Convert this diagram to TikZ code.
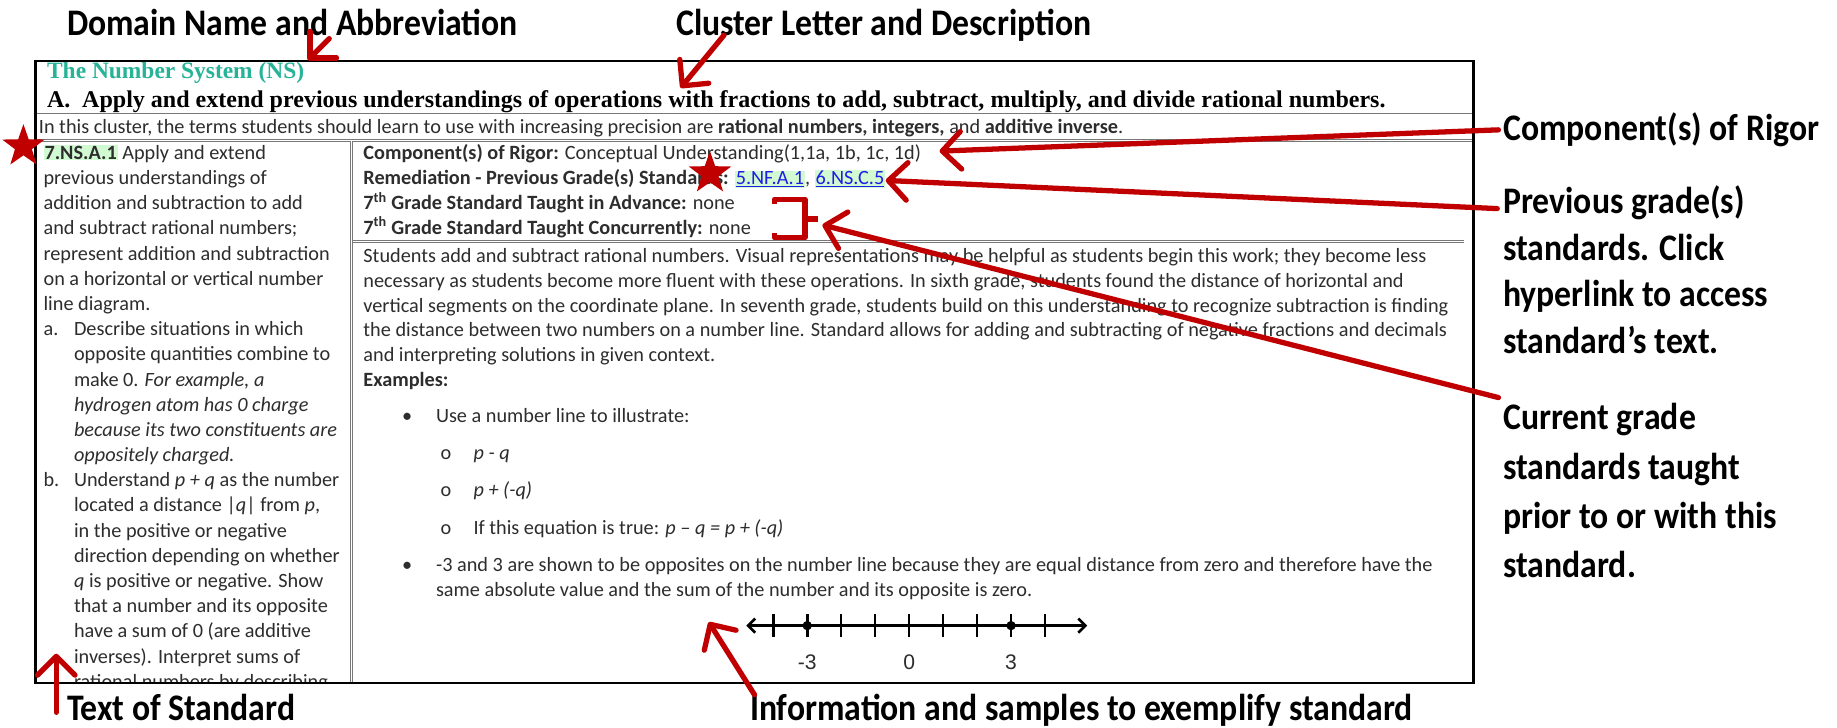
\documentclass[tikz,border=0pt]{standalone}
\usepackage{fontspec}
\setmainfont{Carlito}
\newfontfamily\headfont{Liberation Serif}
\newfontfamily\calloutfont[FakeStretch=0.9]{Carlito}
\newfontfamily\axisfont{Liberation Sans}
\usetikzlibrary{arrows.meta,positioning,shapes.geometric}

\definecolor{markred}{RGB}{192,0,0}
\definecolor{domaingreen}{RGB}{38,179,152}
\definecolor{linkblue}{RGB}{30,30,230}
\definecolor{hilite}{RGB}{210,250,210}
\definecolor{bodytext}{RGB}{45,45,45}
\definecolor{rulegray}{RGB}{120,120,120}

% highlighted standard codes and links
\newcommand{\hlcode}[1]{{\setlength{\fboxsep}{0.8pt}\colorbox{hilite}{#1}}}
\newcommand{\stdlink}[1]{\hlcode{\color{linkblue}\underline{#1}}}

% multi-line nodes sit on the baseline of their last line
\tikzset{
  callout/.style={font=\calloutfont\bfseries\fontsize{32}{40}\selectfont,
    inner sep=0pt, anchor=base west, align=left},
  body/.style={font=\fontsize{17.3}{21.2}\selectfont, text=bodytext,
    inner sep=0pt, anchor=base west, align=left},
  axis label/.style={font=\axisfont\fontsize{18}{18}\selectfont,
    text=bodytext, inner sep=0pt},
  redarrow/.style={draw=markred, line width=4.5pt, line cap=round,
    -{Straight Barb[round,length=16pt,width=32pt]}},
  redstar/.style={star, star points=5, star point ratio=2.5, fill=markred,
    minimum size=38pt, inner sep=0pt},
  tablerule/.style={draw=rulegray, line width=0.7pt, double=white,
    double distance=1.2pt},
}

\begin{document}
\begin{tikzpicture}[x=1pt,y=-1pt]
\fill[white] (0,0) rectangle (1568,621);
\useasboundingbox (0,0) rectangle (1568,621);

% table frame and inner rules
\draw[tablerule] (31,98) -- (1257,98);
\draw[tablerule] (31,120) -- (1257,120);
\draw[tablerule] (300,120) -- (300,582);
\draw[tablerule] (301,206) -- (1250,206);

% domain and cluster heading
\node[inner sep=0pt, anchor=base west, text=domaingreen,
  font=\headfont\bfseries\fontsize{20}{20}\selectfont] (domain) at (40,67)
  {The Number System (NS)};
\node[inner sep=0pt, anchor=base west,
  font=\headfont\bfseries\fontsize{20.5}{20.5}\selectfont] (cluster) at (40,92)
  {\makebox[30pt][l]{A.}Apply and extend previous understandings of operations with fractions to add, subtract, multiply, and divide rational numbers.};
\node[body] (terms) at (33,114)
  {In this cluster, the terms students should learn to use with increasing precision are \textbf{rational numbers, integers,} and \textbf{additive inverse}.};

% left column: text of the standard
\begin{scope}
\clip (31,121) rectangle (299,582);
\node[body, font=\fontsize{17.3}{21.5}\selectfont] (stdtext) at (37,587.5)
{\hlcode{\textbf{7.NS.A.1}} Apply and extend\\
previous understandings of\\
addition and subtraction to add\\
and subtract rational numbers;\\
represent addition and subtraction\\
on a horizontal or vertical number\\
line diagram.\\
\makebox[26pt][l]{a.}Describe situations in which\\
\hspace*{26pt}opposite quantities combine to\\
\hspace*{26pt}make 0. \textit{For example, a}\\
\hspace*{26pt}\textit{hydrogen atom has 0 charge}\\
\hspace*{26pt}\textit{because its two constituents are}\\
\hspace*{26pt}\textit{oppositely charged.}\\
\makebox[26pt][l]{b.}Understand \textit{p + q} as the number\\
\hspace*{26pt}located a distance |\textit{q}| from \textit{p},\\
\hspace*{26pt}in the positive or negative\\
\hspace*{26pt}direction depending on whether\\
\hspace*{26pt}\textit{q} is positive or negative. Show\\
\hspace*{26pt}that a number and its opposite\\
\hspace*{26pt}have a sum of 0 (are additive\\
\hspace*{26pt}inverses). Interpret sums of\\
\hspace*{26pt}rational numbers by describing};
\end{scope}
\draw[line width=2.4pt] (30,52) rectangle (1258,583);

% right column: rigor, remediation and sequencing
\node[body] (rigor) at (310,200) {\textbf{Component(s) of Rigor:} Conceptual Understanding(1,1a, 1b, 1c, 1d)\\
\textbf{Remediation - Previous Grade(s) Standards:} \stdlink{5.NF.A.1}, \stdlink{6.NS.C.5}\\
\textbf{7\textsuperscript{th} Grade Standard  Taught in Advance:} none\\
\textbf{7\textsuperscript{th} Grade Standard  Taught Concurrently:} none};

\node[body] (para) at (310,330) {Students add and subtract rational numbers. Visual representations may be helpful as students begin this work; they become less\\
necessary as students become more fluent with these operations. In sixth grade, students found the distance of horizontal and\\
vertical segments on the coordinate plane. In seventh grade, students build on this understanding to recognize subtraction is finding\\
the distance between two numbers on a number line. Standard allows for adding and subtracting of negative fractions and decimals\\
and interpreting solutions in given context.\\
\textbf{Examples:}};

% examples
\node[body] (bullet1) at (343,361) {•};
\node[body] (item1) at (372,361) {Use a number line to illustrate:};
\node[body] (circ1) at (376,392) {o};
\node[body] (sub1) at (404,392) {\textit{p - q}};
\node[body] (circ2) at (376,424) {o};
\node[body] (sub2) at (404,424) {\textit{p + (-q)}};
\node[body] (circ3) at (376,456) {o};
\node[body] (sub3) at (404,456) {If this equation is true: \textit{p – q = p + (-q)}};
\node[body] (bullet2) at (343,488) {•};
\node[body] (item2) at (372,509) {-3 and 3 are shown to be opposites on the number line  because they are equal distance  from zero and therefore have the\\
same absolute value and the sum of the number and its opposite is zero.};

% number line
\begin{scope}[shift={(776,534)}]
  \draw[line width=2.2pt, {Straight Barb[length=6pt,width=12pt]}-{Straight Barb[length=6pt,width=12pt]}] (-139,0) -- (152,0);
  \foreach \k in {-4,...,4}
    \draw[line width=2.2pt] (29*\k,-9.5) -- (29*\k,9.5);
  \fill (-87,0) circle[radius=4pt] (87,0) circle[radius=4pt];
  \node[axis label] (tickm3) at (-87,31) {-3};
  \node[axis label] (tick0) at (0,31) {0};
  \node[axis label] (tick3) at (87,31) {3};
\end{scope}

% callouts
\node[callout] (domainlbl) at (57,30) {Domain Name and Abbreviation};
\node[callout] (clusterlbl) at (577,30) {Cluster Letter and Description};
\node[callout] (rigorlbl) at (1283,120) {Component(s) of Rigor};
\node[callout] (prevlbl) at (1283,302) {Previous grade(s)\\standards. Click\\hyperlink to access\\standard’s text.};
\node[callout] (curlbl) at (1283,493) {Current grade\\[2pt]standards taught\\[2pt]prior to or with this\\[2pt]standard.};
\node[callout] (textlbl) at (57,615) {Text of Standard};
\node[callout] (infolbl) at (640,615) {Information and samples to exemplify standard};

% marks
\node[redstar] (star1) at (20,125) {};
\node[redstar] (star2) at (606,148) {};
\draw[markred, line width=4.5pt, line join=round]
  (661,174) -- (661,170) -- (687,170) -- (687,203) -- (661,203) -- (661,199)
  (687,187) -- (698,187);

% arrow tips
\coordinate (domaintip) at (263,51);
\coordinate (clustertip) at (581,75);
\coordinate (rigortip) at (802,129);
\coordinate (prevtip) at (756,154);
\coordinate (curtip) at (702,192);
\coordinate (texttip) at (48,558);
\coordinate (infotip) at (605,531);

\draw[redarrow] ([shift={(224,3)}]domainlbl.base west) -- (domaintip);
\draw[redarrow] ([shift={(41,0)}]clusterlbl.base west) -- (clustertip);
\draw[redarrow] ([xshift=-4pt]rigorlbl.west) -- (rigortip);
\draw[redarrow] ([shift={(-5,20)}]prevlbl.north west) -- (prevtip);
\draw[redarrow] ([shift={(-4,-5)}]curlbl.north west) -- (curtip);
\draw[redarrow] ([shift={(-9,-7)}]textlbl.base west) -- (texttip);
\draw[redarrow] ([shift={(4,-22)}]infolbl.base west) -- (infotip);
\end{tikzpicture}
\end{document}
